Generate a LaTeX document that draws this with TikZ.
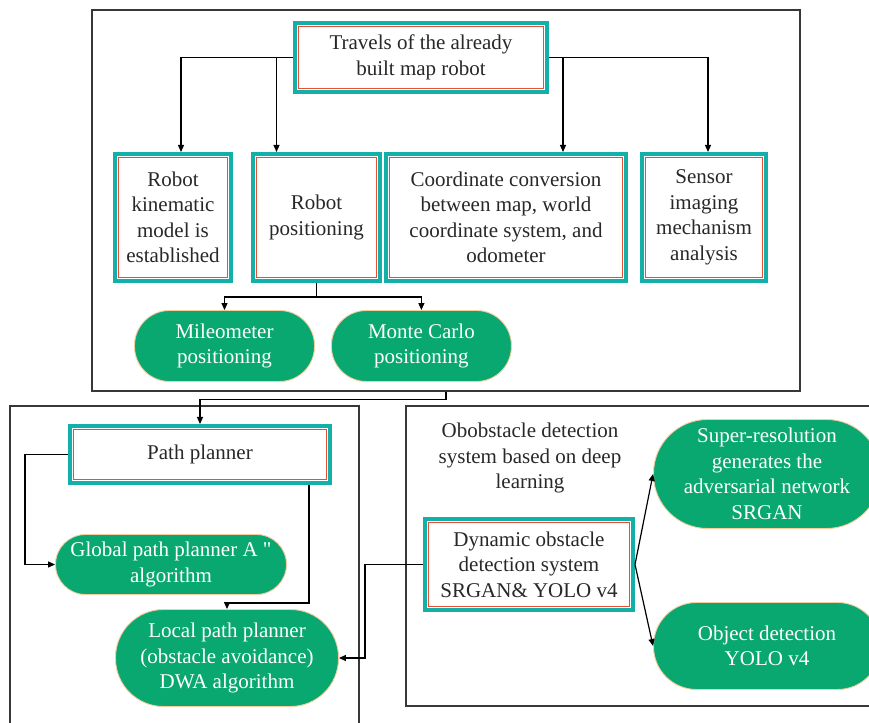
\documentclass[tikz,border=0pt]{standalone}
\usepackage{fontspec}
\setmainfont{Liberation Serif}[Ligatures=TeXOff]
\usepackage{tikz}
\usetikzlibrary{positioning, arrows.meta}

\definecolor{boxteal}{RGB}{18,176,168}
\definecolor{boxred}{RGB}{232,80,52}
\definecolor{pillgreen}{RGB}{8,168,112}
\definecolor{pillrim}{RGB}{246,204,160}
\definecolor{framegray}{RGB}{55,55,55}
\definecolor{textgray}{RGB}{40,40,40}

\begin{document}
\begin{tikzpicture}[
    x=1pt, y=1pt,
    font=\fontsize{21}{25.5}\selectfont,
    frame/.style={rectangle, draw=framegray, line width=1.1pt, inner sep=0pt},
    box/.style={rectangle, draw=boxteal, line width=4pt, fill=white, align=center, inner sep=0pt, text=textgray,
        path picture={\draw[boxred, line width=1.1pt] ([shift={(3.5pt,3.5pt)}]path picture bounding box.south west) rectangle ([shift={(-3.5pt,-3.5pt)}]path picture bounding box.north east);}},
    pill/.style={rectangle, rounded corners=#1, draw=pillrim, line width=0.9pt, fill=pillgreen, text=white, align=center, inner sep=0pt},
    link/.style={draw=black, line width=1.2pt},
    arrow/.style={link, -{Triangle[length=7pt, width=6pt]}}
]
\useasboundingbox (0,0) rectangle (869,722);

% Frames
\node[frame, minimum width=708, minimum height=381] (mapframe) at (446,521.5) {};
\node[frame, minimum width=349, minimum height=334] (planframe) at (184.5,149) {};
\node[frame, minimum width=494, minimum height=300] (detectframe) at (653,166) {};

% Top level
\node[box, minimum width=252, minimum height=69] (travel) at (421,664.5) {Travels of the already\\built map robot};

% Row of tasks
\node[box, minimum width=116, minimum height=127] (kin) at (173,504.5) {Robot\\kinematic\\model is\\established};
\node[box, minimum width=127, minimum height=127, right=18pt of kin] (pos) {Robot\\positioning};
\node[box, minimum width=240, minimum height=127, right=2pt of pos] (coord) {Coordinate conversion\\between map, world\\coordinate system, and\\odometer};
\node[box, minimum width=124, minimum height=127, right=12pt of coord] (sensor) {Sensor\\imaging\\mechanism\\analysis};

% Positioning methods
\node[pill=35, minimum width=180, minimum height=71] (mile) at (224.5,376) {Mileometer\\positioning};
\node[pill=35, minimum width=180, minimum height=71, right=16pt of mile] (monte) {Monte Carlo\\positioning};

% Path planning
\node[box, minimum width=260, minimum height=57] (planner) at (200,267.5) {Path planner};
\node[pill=30, minimum width=231, minimum height=60] (global) at (171,157.5) {Global path planner A "\\algorithm};
\node[pill=48, minimum width=223, minimum height=97] (local) at (227,64) {Local path planner\\(obstacle avoidance)\\DWA algorithm};

% Obstacle detection
\node[text=textgray, align=center] (heading) at (530,264) {Obobstacle detection\\system based on deep\\learning};
\node[box, minimum width=208, minimum height=91] (dynamic) at (529,157.5) {Dynamic obstacle\\detection system\\SRGAN\& YOLO v4};
\node[pill=54, minimum width=227, minimum height=109] (srgan) at (767,248) {Super-resolution\\generates the\\adversarial network\\SRGAN};
\node[pill=43, minimum width=227, minimum height=87] (object) at (767,76) {Object detection\\YOLO v4};

% Edges
\draw[arrow] (travel.west) -| ([xshift=8pt]kin.north);
\draw[arrow] (travel.west) -| ([xshift=-40pt]pos.north);
\draw[arrow] (travel.east) -| ([xshift=57pt]coord.north);
\draw[arrow] (travel.east) -| ([xshift=4pt]sensor.north);

\coordinate (split) at ([yshift=-14pt]pos.south);
\draw[link] (pos.south) -- (split);
\draw[arrow] (split) -| (mile.north);
\draw[arrow] (split) -| (monte.north);

\draw[arrow] (mapframe.south) -- ++(0,-8) -| (planner.north);
\draw[arrow] (planner.west) -- ++(-43,0) |- (global.west);
\draw[arrow] ([xshift=109pt]planner.south) -- ++(0,-118) -| (local.north);

\draw[arrow] (dynamic.west) -- ++(-58,0) |- (local.east);
\draw[arrow] (dynamic.east) -- (srgan.west);
\draw[arrow] (dynamic.east) -- (object.west);

\end{tikzpicture}
\end{document}
